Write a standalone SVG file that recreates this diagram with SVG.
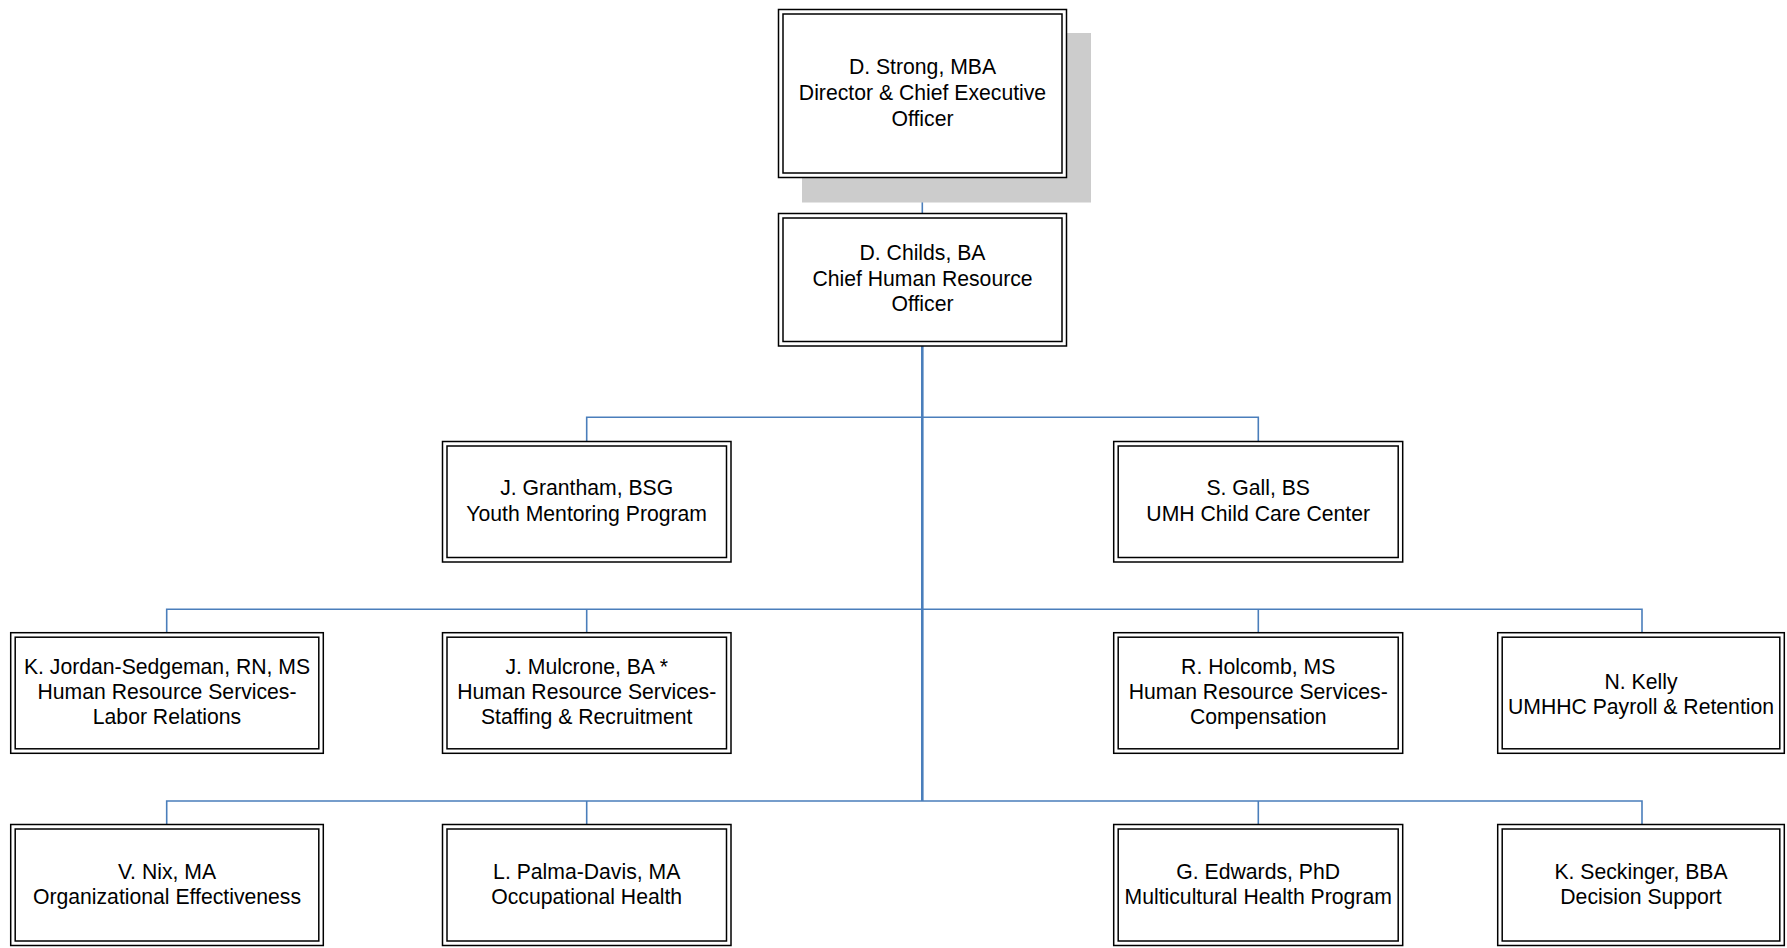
<svg xmlns="http://www.w3.org/2000/svg" width="1787" height="948" viewBox="0 0 1787 948">
<style>
.o{fill:#ffffff;stroke:#000000;stroke-width:1.5}
.i{fill:none;stroke:#000000;stroke-width:1.5}
.t{font-family:"Liberation Sans",Arial,sans-serif;font-size:21.2px;fill:#000000;text-anchor:middle}
.c{fill:none;stroke:#4a7ebb;stroke-width:1.6}
.trunk{fill:none;stroke:#4a7ebb;stroke-width:2.6}
</style>
<rect width="1787" height="948" fill="#ffffff"/>
<g id="connectors">
<line class="c" x1="922.3" y1="177.5" x2="922.3" y2="213.5"/>
<line class="trunk" x1="922.3" y1="346" x2="922.3" y2="801"/>
<polyline class="c" points="586.7,441.5 586.7,417.3 1258.3,417.3 1258.3,441.5"/>
<polyline class="c" points="166.7,632.7 166.7,609.3 1642,609.3 1642,632.7"/>
<line class="c" x1="586.7" y1="609.3" x2="586.7" y2="632.7"/>
<line class="c" x1="1258.3" y1="609.3" x2="1258.3" y2="632.7"/>
<polyline class="c" points="166.7,824.5 166.7,801 1642,801 1642,824.5"/>
<line class="c" x1="586.7" y1="801" x2="586.7" y2="824.5"/>
<line class="c" x1="1258.3" y1="801" x2="1258.3" y2="824.5"/>
</g>
<g id="strong">
<rect x="802" y="33" width="289" height="169.5" fill="#cccccc"/>
<rect class="o" x="778.5" y="9.5" width="288" height="168"/>
<rect class="i" x="783" y="14" width="279" height="159"/>
<text class="t" x="922.5" y="74">D. Strong, MBA</text>
<text class="t" x="922.5" y="100">Director &amp; Chief Executive</text>
<text class="t" x="922.5" y="126">Officer</text>
</g>
<g id="childs">
<rect class="o" x="778.5" y="213.5" width="288" height="132.5"/>
<rect class="i" x="783" y="218" width="279" height="123.5"/>
<text class="t" x="922.5" y="260">D. Childs, BA</text>
<text class="t" x="922.5" y="286">Chief Human Resource</text>
<text class="t" x="922.5" y="311">Officer</text>
</g>
<g id="grantham">
<rect class="o" x="442.5" y="441.5" width="288.5" height="120.5"/>
<rect class="i" x="447" y="446" width="279.5" height="111.5"/>
<text class="t" x="586.7" y="495">J. Grantham, BSG</text>
<text class="t" x="586.7" y="520.7">Youth Mentoring Program</text>
</g>
<g id="gall">
<rect class="o" x="1113.7" y="441.5" width="289" height="120.5"/>
<rect class="i" x="1118.2" y="446" width="280" height="111.5"/>
<text class="t" x="1258.2" y="495">S. Gall, BS</text>
<text class="t" x="1258.2" y="520.7">UMH Child Care Center</text>
</g>
<g id="jordan">
<rect class="o" x="10.7" y="632.7" width="312.6" height="120.6"/>
<rect class="i" x="15.2" y="637.2" width="303.6" height="111.6"/>
<text class="t" x="167" y="674">K. Jordan-Sedgeman, RN, MS</text>
<text class="t" x="167" y="699.3">Human Resource Services-</text>
<text class="t" x="167" y="724">Labor Relations</text>
</g>
<g id="mulcrone">
<rect class="o" x="442.5" y="632.7" width="288.5" height="120.6"/>
<rect class="i" x="447" y="637.2" width="279.5" height="111.6"/>
<text class="t" x="586.7" y="674">J. Mulcrone, BA *</text>
<text class="t" x="586.7" y="699.3">Human Resource Services-</text>
<text class="t" x="586.7" y="724">Staffing &amp; Recruitment</text>
</g>
<g id="holcomb">
<rect class="o" x="1113.7" y="632.7" width="289" height="120.6"/>
<rect class="i" x="1118.2" y="637.2" width="280" height="111.6"/>
<text class="t" x="1258.2" y="674">R. Holcomb, MS</text>
<text class="t" x="1258.2" y="699.3">Human Resource Services-</text>
<text class="t" x="1258.2" y="724">Compensation</text>
</g>
<g id="kelly">
<rect class="o" x="1497.7" y="632.7" width="286.6" height="120.6"/>
<rect class="i" x="1502.2" y="637.2" width="277.6" height="111.6"/>
<text class="t" x="1641" y="689.3">N. Kelly</text>
<text class="t" x="1641" y="714.3">UMHHC Payroll &amp; Retention</text>
</g>
<g id="nix">
<rect class="o" x="10.7" y="824.5" width="312.6" height="121"/>
<rect class="i" x="15.2" y="829" width="303.6" height="112"/>
<text class="t" x="167" y="879">V. Nix, MA</text>
<text class="t" x="167" y="904">Organizational Effectiveness</text>
</g>
<g id="palma-davis">
<rect class="o" x="442.5" y="824.5" width="288.5" height="121"/>
<rect class="i" x="447" y="829" width="279.5" height="112"/>
<text class="t" x="586.7" y="879">L. Palma-Davis, MA</text>
<text class="t" x="586.7" y="904">Occupational Health</text>
</g>
<g id="edwards">
<rect class="o" x="1113.7" y="824.5" width="289" height="121"/>
<rect class="i" x="1118.2" y="829" width="280" height="112"/>
<text class="t" x="1258.2" y="879">G. Edwards, PhD</text>
<text class="t" x="1258.2" y="904">Multicultural Health Program</text>
</g>
<g id="seckinger">
<rect class="o" x="1497.7" y="824.5" width="286.6" height="121"/>
<rect class="i" x="1502.2" y="829" width="277.6" height="112"/>
<text class="t" x="1641" y="879">K. Seckinger, BBA</text>
<text class="t" x="1641" y="904">Decision Support</text>
</g>
</svg>
